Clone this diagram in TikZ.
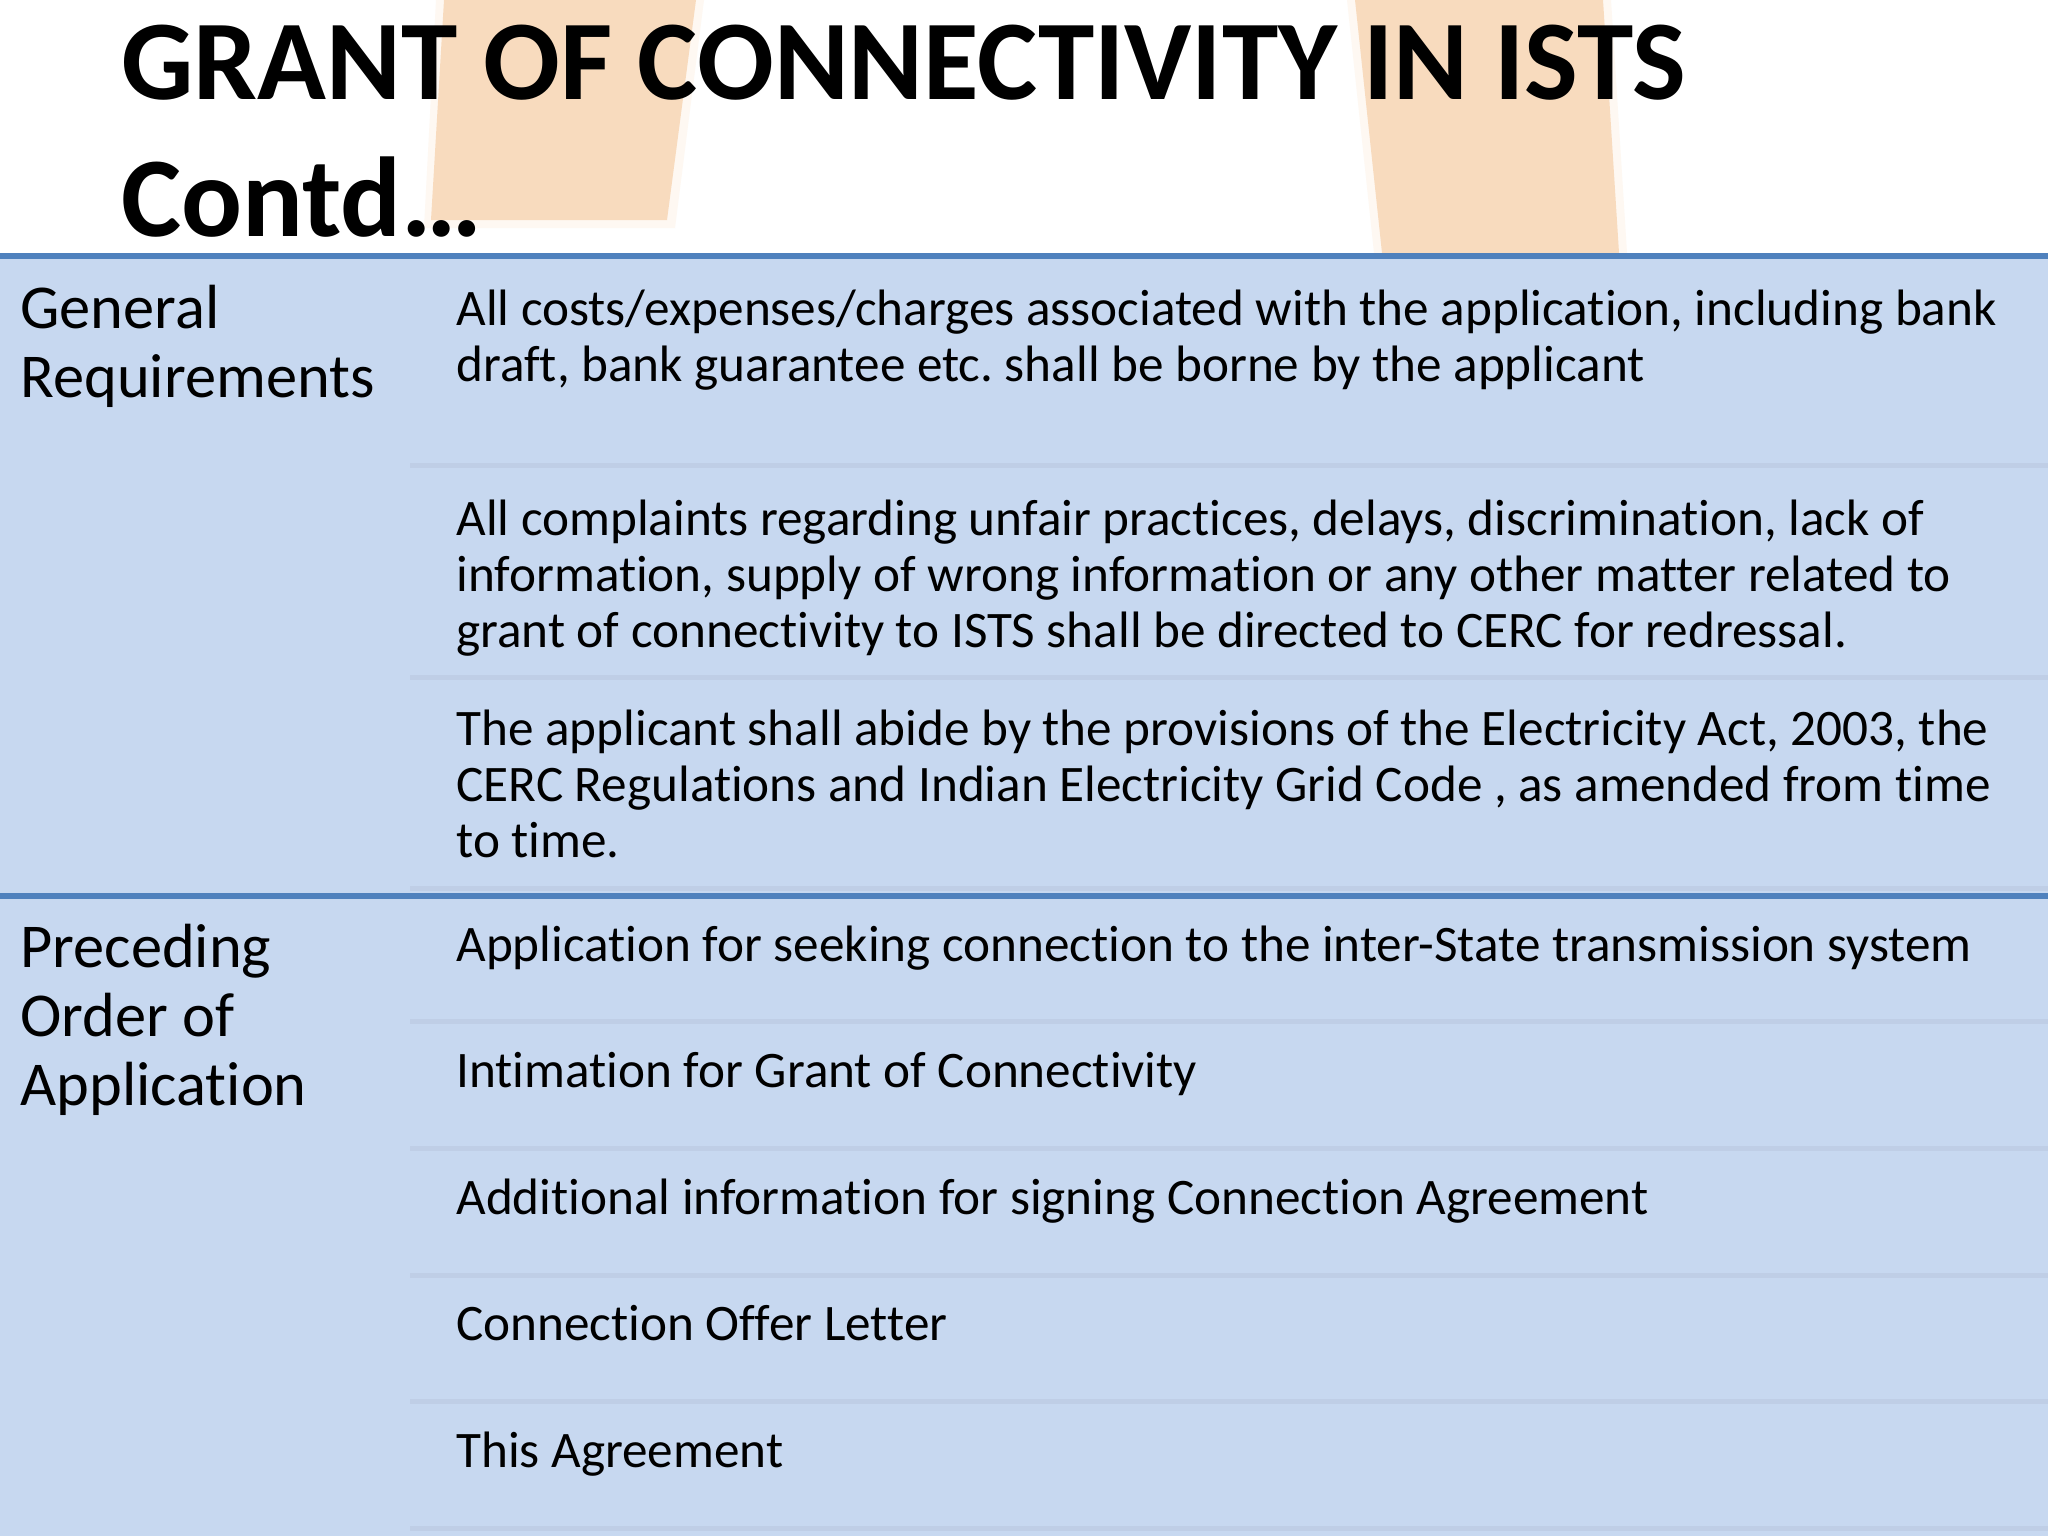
\documentclass[tikz,border=0pt]{standalone}
\usepackage{fontspec}
\setmainfont[Ligatures=NoCommon]{Carlito}
\frenchspacing
\definecolor{bandfill}{HTML}{F8DBBE}
\definecolor{bandhalo}{HTML}{FEF8F2}
\definecolor{tablefill}{HTML}{C7D8F0}
\definecolor{tablerule}{HTML}{4F81BD}
\definecolor{rowrule}{HTML}{BFCEE6}
\begin{document}
\begin{tikzpicture}[x=0.5pt,y=-0.5pt]
  \tikzstyle{title}=[anchor=base west,inner sep=0pt,align=left,font=\fontsize{56.8}{68.5}\selectfont\bfseries]
  \tikzstyle{head}=[anchor=base west,inner sep=0pt,align=left,font=\fontsize{31.2}{34.4}\selectfont]
  \tikzstyle{cell}=[anchor=base west,inner sep=0pt,align=left,font=\fontsize{25.6}{28}\selectfont]
  \tikzstyle{major}=[tablerule,line width=3pt]
  \tikzstyle{minor}=[rowrule,line width=2.5pt]
  \useasboundingbox (0,0) rectangle (2048,1536);
  \fill[white] (0,0) rectangle (2048,1536);
  \fill[bandhalo] (436,0) -- (704,0) -- (675,228) -- (424,228) -- cycle;
  \fill[bandhalo] (1347,0) -- (1611,0) -- (1627,253) -- (1374,253) -- cycle;
  \fill[bandfill] (444,0) -- (696,0) -- (667,220) -- (431,220) -- cycle;
  \fill[bandfill] (1355,0) -- (1603,0) -- (1619,253) -- (1382,253) -- cycle;
  \fill[tablefill] (0,253) rectangle (2048,1536);
  \foreach \y in {465,677,888,1021,1148,1275,1401,1528}
    \draw[minor] (410,\y) -- (2048,\y);
  \draw[major] (0,256) -- (2048,256);
  \draw[major] (0,896) -- (2048,896);
  \node[title] (heading) at (121,236) {GRANT OF CONNECTIVITY IN ISTS\\Contd…};
  \node[head] (general) at (20,397) {General\\Requirements};
  \node[head] (preceding) at (20,1105) {Preceding\\Order of\\Application};
  \node[cell] (costs) at (456,381) {All costs/expenses/charges associated with the application, including bank\\draft, bank guarantee etc. shall be borne by the applicant};
  \node[cell] (complaints) at (456,647) {All complaints regarding unfair practices, delays, discrimination, lack of\\information, supply of wrong information or any other matter related to\\grant of connectivity to ISTS shall be directed to CERC for redressal.};
  \node[cell] (abide) at (456,857) {The applicant shall abide by the provisions of the Electricity Act, 2003, the\\CERC Regulations and Indian Electricity Grid Code , as amended from time\\to time.};
  \node[cell] (seeking) at (456,961) {Application for seeking connection to the inter-State transmission system};
  \node[cell] (intimation) at (456,1087) {Intimation for Grant of Connectivity};
  \node[cell] (additional) at (456,1214) {Additional information for signing Connection Agreement};
  \node[cell] (offer) at (456,1340) {Connection Offer Letter};
  \node[cell] (agreement) at (456,1467) {This Agreement};
\end{tikzpicture}
\end{document}
